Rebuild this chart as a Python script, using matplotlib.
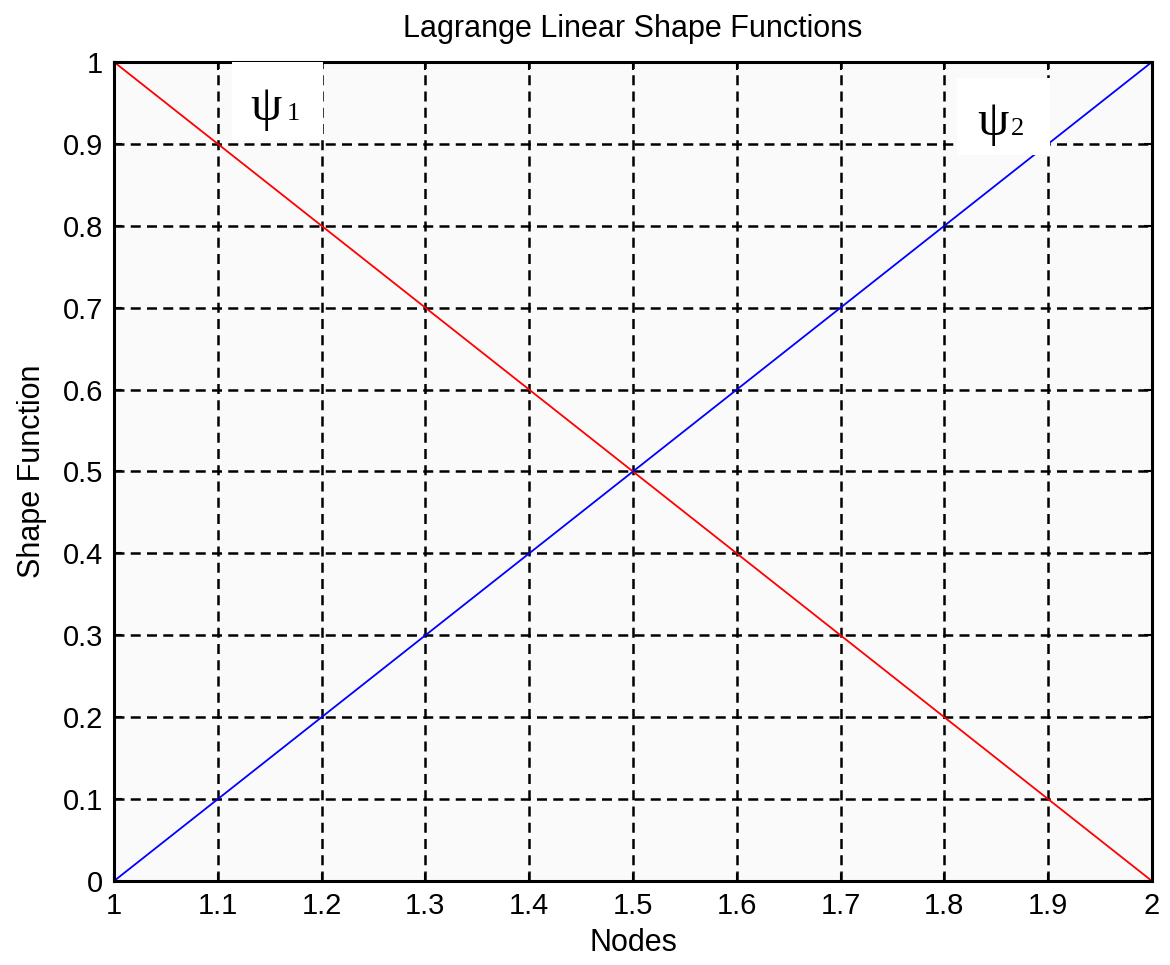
import matplotlib
matplotlib.use('Agg')
import matplotlib.pyplot as plt
import numpy as np

# nodes and the two linear shape functions
nodes = [1.0, 2.0]
psi1 = [1.0, 0.0]
psi2 = [0.0, 1.0]

xticks = [1, 1.1, 1.2, 1.3, 1.4, 1.5, 1.6, 1.7, 1.8, 1.9, 2]
yticks = [0, 0.1, 0.2, 0.3, 0.4, 0.5, 0.6, 0.7, 0.8, 0.9, 1]
xticklabels = ['1', '1.1', '1.2', '1.3', '1.4', '1.5', '1.6', '1.7', '1.8', '1.9', '2']
yticklabels = ['0', '0.1', '0.2', '0.3', '0.4', '0.5', '0.6', '0.7', '0.8', '0.9', '1']

plt.rcParams['font.family'] = ['Liberation Sans', 'DejaVu Sans']

fig = plt.figure(figsize=(11.7, 9.65), dpi=100)
ax = fig.add_axes([0.0974, 0.087, 0.8872, 0.8488])
ax.set_facecolor('#fafafa')

ax.plot(nodes, psi1, color='red', lw=1.3)
ax.plot(nodes, psi2, color='blue', lw=1.3)

ax.set_xlim(1, 2)
ax.set_ylim(0, 1)
ax.set_xticks(xticks)
ax.set_xticklabels(xticklabels)
ax.set_yticks(yticks)
ax.set_yticklabels(yticklabels)
ax.tick_params(direction='in', length=6, width=1.5, labelsize=21,
               top=True, right=True, pad=8)
ax.grid(True, color='black', linestyle=(0, (4, 2.5)), linewidth=1.8)
for s in ax.spines.values():
    s.set_linewidth(2.2)

ax.set_title('Lagrange Linear Shape Functions', fontsize=22, pad=18)
ax.set_xlabel('Nodes', fontsize=22, labelpad=6)
ax.set_ylabel('Shape Function', fontsize=22, labelpad=11)

# white label boxes with psi annotations
boxes = [(0.1135, 0.905, 0.0875, 0.095), (0.812, 0.886, 0.0896, 0.095)]
labels = [('\u03c8', '1', 0.131, 0.1667, 0.929), ('\u03c8', '2', 0.8314, 0.864, 0.911)]
for (x0, y0, w, h), (sym, dig, xs, xd, yb) in zip(boxes, labels):
    ax.add_patch(plt.Rectangle((x0, y0), w, h, transform=ax.transAxes,
                               facecolor='white', edgecolor='none', zorder=3))
    ax.text(xs, yb, sym, transform=ax.transAxes, fontsize=36,
            family='Liberation Serif', ha='left', va='baseline', zorder=4)
    ax.text(xd, yb, dig, transform=ax.transAxes, fontsize=19,
            family='Liberation Serif', ha='left', va='baseline', zorder=4)

fig.savefig('out.png', dpi=100)
